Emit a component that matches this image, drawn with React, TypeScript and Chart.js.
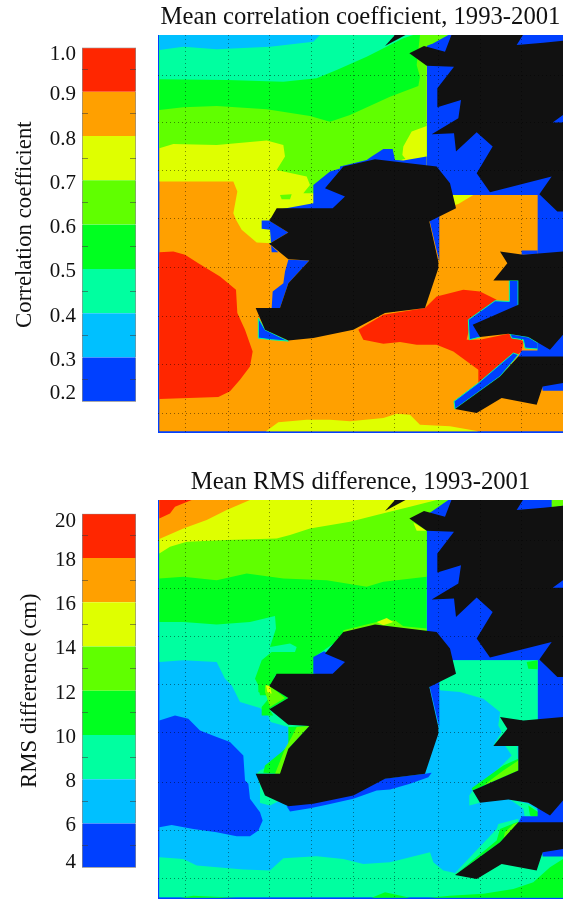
import React, { useEffect, useRef } from "react";
import { Chart, registerables } from "chart.js";

Chart.register(...registerables);

type Pt = [number, number];

const RED = "rgb(255,38,0)";
const ORANGE = "rgb(255,160,0)";
const YELLOW = "rgb(223,255,0)";
const LIME = "rgb(96,255,0)";
const GREEN = "rgb(0,255,32)";
const TEAL = "rgb(0,255,160)";
const CYAN = "rgb(0,192,255)";
const BLUE = "rgb(0,64,255)";
const LAND = "#111111";
const bandColors = [BLUE, CYAN, TEAL, GREEN, LIME, YELLOW, ORANGE, RED];

// colour bars
const corrLevels = [0.2, 0.3, 0.4, 0.5, 0.6, 0.7, 0.8, 0.9, 1.0];
const corrTickValues = [0.225, 0.3, 0.4, 0.5, 0.6, 0.7, 0.8, 0.9, 0.99];
const corrTickLabels = ["0.2", "0.3", "0.4", "0.5", "0.6", "0.7", "0.8", "0.9", "1.0"];
const rmsLevels = [4, 6, 8, 10, 12, 14, 16, 18, 20];
const rmsTickValues = [4.37, 6, 8, 10, 12, 14, 16, 18, 19.74];
const rmsTickLabels = ["4", "6", "8", "10", "12", "14", "16", "18", "20"];

// map grid (model grid units)
const gridX = [105, 235, 360, 485, 610, 735, 865, 990, 1115];
const gridY = [225, 369, 513, 657, 802, 950, 1095, 1240];

// land mask
const landScotland: Pt[] = [[905, 103], [1120, 103], [1100, 135], [1180, 128], [1239, 122], [1239, 345], [1208, 368], [1239, 368], [1239, 635], [1222, 635], [1168, 583], [1205, 530], [1020, 577], [980, 520], [1028, 440], [980, 397], [918, 455], [912, 400], [845, 403], [925, 355], [933, 300], [862, 322], [862, 265], [912, 200], [830, 197], [778, 160], [822, 138], [885, 155]];
const landIsle: Pt[] = [[705, 138], [735, 105], [770, 103]];
const landIreland: Pt[] = [[675, 478], [860, 500], [900, 550], [918, 625], [838, 665], [865, 785], [865, 805], [825, 925], [705, 940], [610, 990], [490, 1015], [415, 1022], [345, 990], [317, 925], [390, 925], [415, 850], [478, 782], [415, 778], [358, 732], [415, 698], [358, 663], [380, 625], [548, 625], [585, 590], [525, 565], [580, 500]];
const landWales: Pt[] = [[1050, 755], [1120, 765], [1239, 755], [1239, 1005], [1200, 1050], [1135, 1012], [1075, 1002], [990, 1012], [968, 975], [1105, 915], [1105, 842], [1030, 842], [1072, 790]];
const landCornwall: Pt[] = [[1105, 1070], [1239, 1070], [1239, 1150], [1178, 1160], [1160, 1215], [1055, 1195], [980, 1240], [915, 1228], [1050, 1130]];

const plotRect: Pt[] = [[24, 105], [1239, 105], [1239, 1300], [24, 1300]];
const seaDomain: Pt[] = [[28, 105], [830, 105], [830, 585], [1163, 585], [1163, 1140], [1239, 1140], [1239, 1295], [28, 1295]];

// correlation contours
const corrYellow: Pt[] = [[28, 105], [830, 105], [830, 540], [600, 540], [500, 640], [380, 640], [365, 660], [365, 730], [320, 728], [275, 690], [258, 660], [250, 640], [262, 575], [250, 545], [28, 545]];
const corrLime: Pt[] = [[28, 105], [830, 105], [830, 470], [760, 478], [700, 500], [600, 510], [530, 530], [495, 580], [460, 580], [480, 555], [470, 530], [380, 510], [405, 470], [400, 435], [350, 422], [200, 435], [70, 432], [28, 445]];
const corrLimeIsle: Pt[] = [[390, 585], [425, 583], [420, 598], [395, 598]];
const corrLimeTop: Pt[] = [[770, 105], [895, 105], [850, 130], [800, 150]];
const corrYellowNorth: Pt[] = [[757, 465], [760, 440], [785, 395], [830, 378], [830, 470], [770, 482]];
const corrGreen: Pt[] = [[28, 105], [810, 105], [800, 195], [810, 230], [805, 258], [720, 290], [600, 345], [540, 365], [480, 348], [350, 328], [200, 318], [100, 322], [28, 330]];
const corrTeal: Pt[] = [[28, 105], [790, 105], [760, 115], [650, 170], [560, 210], [500, 235], [400, 245], [230, 240], [28, 238]];
const corrCyan: Pt[] = [[28, 105], [510, 105], [490, 125], [360, 140], [200, 148], [100, 140], [28, 150]];
const corrRedWest: Pt[] = [[28, 757], [70, 755], [105, 765], [145, 790], [210, 830], [258, 870], [262, 940], [285, 990], [308, 1055], [300, 1100], [270, 1140], [240, 1175], [205, 1192], [28, 1198]];
const corrRedCentral: Pt[] = [[625, 990], [700, 945], [825, 925], [860, 890], [940, 870], [990, 875], [1040, 900], [965, 955], [950, 1020], [990, 1020], [1075, 1002], [1120, 1025], [1115, 1055], [985, 1150], [985, 1110], [910, 1055], [860, 1035], [800, 1035], [750, 1027], [700, 1032], [640, 1020]];
const corrYellowSouth: Pt[] = [[348, 1295], [385, 1268], [470, 1260], [540, 1260], [600, 1265], [700, 1255], [740, 1242], [780, 1245], [810, 1275], [900, 1280], [985, 1295]];
const corrYellowIrish: Pt[] = [[905, 585], [970, 585], [925, 612], [915, 615]];
const corrBlueNorth: Pt[] = [[570, 500], [650, 480], [665, 470], [700, 447], [728, 447], [735, 480], [760, 482], [830, 470], [830, 505], [570, 525]];
const corrBlueNW: Pt[] = [[490, 555], [540, 515], [590, 500], [590, 600], [550, 630], [380, 630], [490, 610]];
const corrBlueNotch: Pt[] = [[335, 662], [358, 662], [415, 698], [358, 732], [385, 757], [365, 757], [360, 690], [335, 687]];
const corrBlueWest: Pt[] = [[415, 780], [478, 782], [415, 850], [390, 925], [365, 925], [368, 875], [400, 850], [405, 815]];
const corrBlueSW: Pt[] = [[325, 955], [345, 990], [415, 1024], [365, 1020], [325, 1015]];
const corrBlueEast: Pt[] = [[838, 660], [868, 645], [868, 785]];
const corrBlueWalesTop: Pt[] = [[1115, 752], [1163, 752], [1163, 765], [1115, 765]];
const corrBlueWalesWest: Pt[] = [[1078, 842], [1105, 842], [1105, 915], [990, 1012], [958, 1020], [955, 960], [1035, 903], [1078, 905]];
const corrBlueWalesSouth: Pt[] = [[1080, 1002], [1135, 1012], [1165, 1030], [1165, 1048], [1125, 1045], [1120, 1020], [1085, 1015]];
const corrBlueCornwallN: Pt[] = [[1105, 1065], [1050, 1130], [915, 1228], [912, 1205], [985, 1150], [1090, 1060]];
const blueCornwallS: Pt[] = [[1175, 1150], [1239, 1140], [1239, 1173], [1178, 1173]];
const blueChannel: Pt[] = [[1163, 1020], [1239, 1040], [1239, 1072], [1105, 1072], [1115, 1052], [1163, 1052]];

// rms contours
const rmsTealWest: Pt[] = [[28, 105], [830, 105], [830, 500], [600, 500], [600, 900], [360, 1020], [328, 1012], [330, 960], [320, 925], [330, 915], [380, 890], [405, 860], [425, 825], [415, 785], [362, 770], [352, 745], [330, 728], [270, 710], [245, 660], [225, 640], [200, 590], [100, 585], [28, 590]];
const rmsTealIrish: Pt[] = [[868, 585], [1163, 585], [1163, 770], [1100, 770], [1105, 920], [1040, 915], [1085, 870], [1065, 840], [1030, 840], [1055, 800], [1045, 780], [1050, 740], [1000, 700], [930, 680], [868, 675]];
const rmsTealWalesFoot: Pt[] = [[968, 975], [990, 1012], [958, 1020], [958, 990]];
const rmsTealWalesSouth: Pt[] = [[1080, 1002], [1135, 1015], [1165, 1035], [1165, 1060], [1125, 1058], [1120, 1030]];
const rmsTealSouth: Pt[] = [[28, 1175], [100, 1180], [140, 1200], [280, 1212], [360, 1215], [400, 1178], [500, 1172], [580, 1180], [640, 1195], [720, 1190], [840, 1160], [850, 1190], [880, 1215], [915, 1222], [1050, 1130], [1100, 1150], [1239, 1150], [1239, 1295], [28, 1295]];
const rmsTealCornwall: Pt[] = [[915, 1222], [1040, 1090], [1045, 1075], [1105, 1060], [1105, 1072], [1050, 1130]];
const rmsGreenMain: Pt[] = [[28, 105], [830, 105], [830, 500], [600, 500], [500, 570], [490, 625], [375, 630], [365, 660], [365, 690], [330, 690], [325, 660], [315, 640], [335, 585], [365, 560], [435, 560], [440, 545], [420, 535], [360, 545], [378, 490], [375, 452], [300, 470], [200, 478], [100, 470], [28, 470]];
const rmsGreenNotch: Pt[] = [[325, 660], [358, 660], [415, 698], [358, 732], [370, 750], [335, 750], [335, 725], [360, 695], [325, 680]];
const rmsGreenWest: Pt[] = [[415, 785], [478, 782], [415, 850], [392, 925], [340, 922], [345, 900], [395, 860], [415, 840]];
const rmsGreenWales: Pt[] = [[1105, 880], [1105, 915], [968, 975], [965, 968], [1060, 900]];
const rmsGreenWalesSouth: Pt[] = [[1135, 1020], [1165, 1040], [1165, 1058], [1140, 1050]];
const rmsGreenCornwall: Pt[] = [[925, 1220], [1040, 1125], [1050, 1090], [1105, 1068], [1105, 1072], [1050, 1130]];
const rmsGreenIrish: Pt[] = [[1130, 590], [1163, 585], [1163, 612], [1135, 610]];
const rmsLimeMain: Pt[] = [[28, 105], [895, 105], [830, 150], [830, 335], [700, 350], [650, 365], [530, 345], [400, 340], [290, 325], [200, 345], [100, 335], [28, 340]];
const rmsLimeNorth: Pt[] = [[580, 495], [680, 470], [735, 465], [760, 483], [830, 490], [830, 505], [580, 515]];
const rmsLimeNotch: Pt[] = [[345, 660], [360, 662], [405, 698], [360, 725], [352, 700], [345, 680]];
const rmsLimeWest: Pt[] = [[440, 785], [478, 782], [420, 845], [395, 925], [375, 925], [405, 850], [425, 815]];
const rmsLimeWales: Pt[] = [[1105, 885], [1105, 915], [1000, 960], [1060, 915]];
const rmsLimeCornwall: Pt[] = [[1065, 1100], [1090, 1075], [1105, 1070], [1060, 1120]];
const rmsLimeCorner: Pt[] = [[1205, 105], [1239, 105], [1239, 122], [1205, 128]];
const rmsYellow: Pt[] = [[28, 105], [860, 105], [780, 125], [680, 150], [600, 170], [480, 190], [420, 210], [380, 220], [230, 225], [110, 230], [60, 245], [28, 265]];
const rmsYellowCoast: Pt[] = [[790, 172], [830, 197], [800, 197]];
const rmsYellowNorth: Pt[] = [[680, 470], [710, 458], [730, 470], [700, 480]];
const rmsYellowNotch: Pt[] = [[348, 660], [360, 662], [365, 685], [352, 680]];
const rmsOrange: Pt[] = [[28, 105], [300, 105], [230, 135], [170, 165], [100, 190], [28, 222]];
const rmsRed: Pt[] = [[28, 105], [125, 105], [75, 125], [60, 145], [28, 160]];
const rmsBlueWest: Pt[] = [[28, 765], [75, 750], [115, 760], [150, 795], [200, 815], [240, 830], [280, 870], [285, 945], [295, 955], [300, 1000], [330, 1040], [338, 1065], [325, 1095], [300, 1112], [260, 1112], [200, 1100], [130, 1090], [65, 1078], [28, 1085]];
const rmsBlueIreland: Pt[] = [[825, 925], [845, 922], [835, 935], [780, 955], [720, 972], [680, 975], [610, 1000], [530, 1018], [480, 1028], [420, 1038], [410, 1022], [600, 990], [700, 940]];
const rmsBlueNW: Pt[] = [[490, 625], [490, 575], [522, 558], [590, 590], [550, 630]];
const rmsGreenFoot1: Pt[] = [[90, 1296], [130, 1290], [260, 1296]];
const rmsGreenFoot2: Pt[] = [[665, 1296], [705, 1280], [780, 1296]];
const rmsGreenFoot3: Pt[] = [[835, 1296], [900, 1290], [1000, 1284], [1090, 1270], [1150, 1250], [1200, 1205], [1239, 1180], [1239, 1296]];

const landLayers: [Pt[], string][] = [[landScotland, LAND], [landIsle, LAND], [landIreland, LAND], [landWales, LAND], [landCornwall, LAND]];

const corrLayers: [Pt[], string, string?][] = [
  [plotRect, BLUE], [seaDomain, ORANGE], [corrYellow, YELLOW], [corrLime, LIME], [corrLimeIsle, LIME], [corrYellowNorth, YELLOW],
  [corrLimeTop, LIME], [corrGreen, GREEN], [corrTeal, TEAL], [corrCyan, CYAN], [corrRedWest, RED], [corrRedCentral, RED],
  [corrYellowSouth, YELLOW], [corrYellowIrish, YELLOW], [corrBlueNorth, BLUE], [corrBlueNW, BLUE], [corrBlueNotch, BLUE],
  [corrBlueWest, BLUE], [corrBlueSW, BLUE, TEAL], [corrBlueEast, BLUE], [corrBlueWalesTop, BLUE], [corrBlueWalesWest, BLUE, TEAL],
  [corrBlueWalesSouth, BLUE, TEAL], [blueChannel, BLUE], [corrBlueCornwallN, BLUE, TEAL], [blueCornwallS, BLUE], ...landLayers,
];

const rmsLayers: [Pt[], string, string?][] = [
  [plotRect, BLUE], [seaDomain, CYAN], [rmsTealWest, TEAL], [rmsTealIrish, TEAL], [rmsTealWalesFoot, TEAL], [rmsTealWalesSouth, TEAL],
  [rmsTealSouth, TEAL], [rmsTealCornwall, TEAL], [rmsGreenMain, GREEN], [rmsGreenNotch, GREEN], [rmsGreenWest, GREEN], [rmsGreenWales, GREEN],
  [rmsGreenWalesSouth, GREEN], [rmsGreenCornwall, GREEN], [rmsGreenIrish, GREEN], [rmsLimeMain, LIME], [rmsLimeNorth, LIME], [rmsLimeNotch, LIME],
  [rmsLimeWest, LIME], [rmsLimeWales, LIME], [rmsLimeCornwall, LIME], [rmsLimeCorner, LIME], [rmsYellow, YELLOW], [rmsYellowCoast, YELLOW],
  [rmsYellowNorth, YELLOW], [rmsYellowNotch, YELLOW], [rmsOrange, ORANGE], [rmsRed, RED], [rmsBlueWest, BLUE], [rmsBlueIreland, BLUE],
  [rmsBlueNW, BLUE], [corrBlueEast, BLUE], [blueChannel, BLUE], [blueCornwallS, BLUE], [rmsGreenFoot1, GREEN], [rmsGreenFoot2, GREEN],
  [rmsGreenFoot3, GREEN], ...landLayers,
];

const SERIF = '"Liberation Serif", "Times New Roman", serif';

function mapConfig(title: string, layers: [Pt[], string, string?][]): any {
  // the first dataset is painted last, so the list is reversed
  const datasets = layers
    .map(([pts, color, edge]) => ({
      data: [...pts, pts[0]].map(([x, y]) => ({ x, y })),
      showLine: true,
      fill: "shape",
      tension: 0,
      pointRadius: 0,
      backgroundColor: color,
      borderColor: edge ?? "transparent",
      borderWidth: edge ? 1 : 0,
    }))
    .reverse();
  return {
    type: "scatter",
    data: { datasets },
    options: {
      responsive: false,
      animation: false,
      events: [],
      layout: { padding: 0 },
      plugins: {
        legend: { display: false },
        tooltip: { enabled: false },
        title: {
          display: true,
          text: title,
          color: "#111",
          font: { family: SERIF, size: 24.7, weight: "normal", lineHeight: 1.2 },
          padding: { top: 3, bottom: 2.4 },
        },
      },
      scales: {
        x: {
          type: "linear",
          min: 24,
          max: 1239,
          afterBuildTicks: (a: any) => { a.ticks = gridX.map((value) => ({ value })); },
          ticks: { display: false },
          border: { display: false, dash: [1, 3] },
          grid: { color: "rgba(0,0,0,0.45)", lineWidth: 1, drawTicks: false, z: 1 },
        },
        y: {
          type: "linear",
          reverse: true,
          min: 105,
          max: 1300,
          afterBuildTicks: (a: any) => { a.ticks = gridY.map((value) => ({ value })); },
          ticks: { display: false },
          border: { display: false, dash: [1, 3] },
          grid: { color: "rgba(0,0,0,0.45)", lineWidth: 1, drawTicks: false, z: 1 },
        },
      },
    },
  };
}

function barConfig(label: string, levels: number[], tickValues: number[], tickLabels: string[], top: number, bottom: number, titlePad: number, H: number, labelOffset: number): any {
  const n = bandColors.length;
  const datasets = bandColors.map((color, i) => ({
    data: [[levels[i], levels[i + 1]]],
    backgroundColor: color,
    borderColor: "#8c8c8c",
    borderSkipped: false,
    borderWidth: { left: 1, right: 1, top: i === n - 1 ? 1 : 0, bottom: i === 0 ? 1 : 0 },
    grouped: false,
    barPercentage: 1,
    categoryPercentage: 1,
  }));
  const lo = levels[0];
  const hi = levels[n];
  const mids = levels.slice(0, n).map((v, i) => (v + levels[i + 1]) / 2);
  return {
    type: "bar",
    data: { labels: [""], datasets },
    options: {
      responsive: false,
      animation: false,
      events: [],
      layout: { padding: { top, bottom: H - bottom, left: 0, right: 4 } },
      plugins: { legend: { display: false }, tooltip: { enabled: false }, title: { display: false } },
      scales: {
        x: { display: false },
        y: {
          type: "linear",
          min: lo,
          max: hi,
          afterFit: (s: any) => { s.width = 82; },
          afterBuildTicks: (a: any) => { a.ticks = tickValues.map((value) => ({ value })); },
          ticks: {
            autoSkip: false,
            padding: 6,
            labelOffset,
            color: "#111",
            font: { family: SERIF, size: 21 },
            callback: (_v: any, i: number) => tickLabels[i],
          },
          border: { display: false },
          grid: { display: false, drawTicks: false },
          title: {
            display: true,
            text: label,
            color: "#111",
            font: { family: SERIF, size: 22.8 },
            padding: { top: titlePad, bottom: 0 },
          },
        },
        yMid: {
          type: "linear",
          position: "right",
          min: lo,
          max: hi,
          afterBuildTicks: (a: any) => { a.ticks = mids.map((value) => ({ value })); },
          afterFit: (s: any) => { s.width = 0; },
          ticks: { display: false },
          border: { display: false, dash: [6, 42] },
          grid: { color: "rgba(60,60,60,0.55)", drawTicks: false, z: 1 },
        },
      },
    },
  };
}

function ChartCanvas({ left, top, width, height, config }: { left: number; top: number; width: number; height: number; config: () => any }) {
  const ref = useRef<HTMLCanvasElement>(null);
  useEffect(() => {
    const chart = new Chart(ref.current as HTMLCanvasElement, config());
    return () => chart.destroy();
  }, []);
  return <canvas ref={ref} width={width} height={height} style={{ position: "absolute", left, top, width, height, display: "block", filter: "blur(0.35px)" }} />;
}

export default function App() {
  return (
    <div style={{ position: "absolute", left: 0, top: 0, width: 563, height: 899, overflow: "hidden", background: "#fff" }}>
      <ChartCanvas left={0} top={0} width={140} height={433} config={() => barConfig("Correlation coefficient", corrLevels, corrTickValues, corrTickLabels, 47.5, 401.7, 11, 433, 3)} />
      <ChartCanvas left={158} top={0} width={405} height={433} config={() => mapConfig("Mean correlation coefficient, 1993-2001", corrLayers)} />
      <ChartCanvas left={0} top={465} width={140} height={434} config={() => barConfig("RMS difference (cm)", rmsLevels, rmsTickValues, rmsTickLabels, 48.7, 402.7, 16.3, 434, 2.5)} />
      <ChartCanvas left={158} top={465} width={405} height={434} config={() => mapConfig("Mean RMS difference, 1993-2001", rmsLayers)} />
    </div>
  );
}
